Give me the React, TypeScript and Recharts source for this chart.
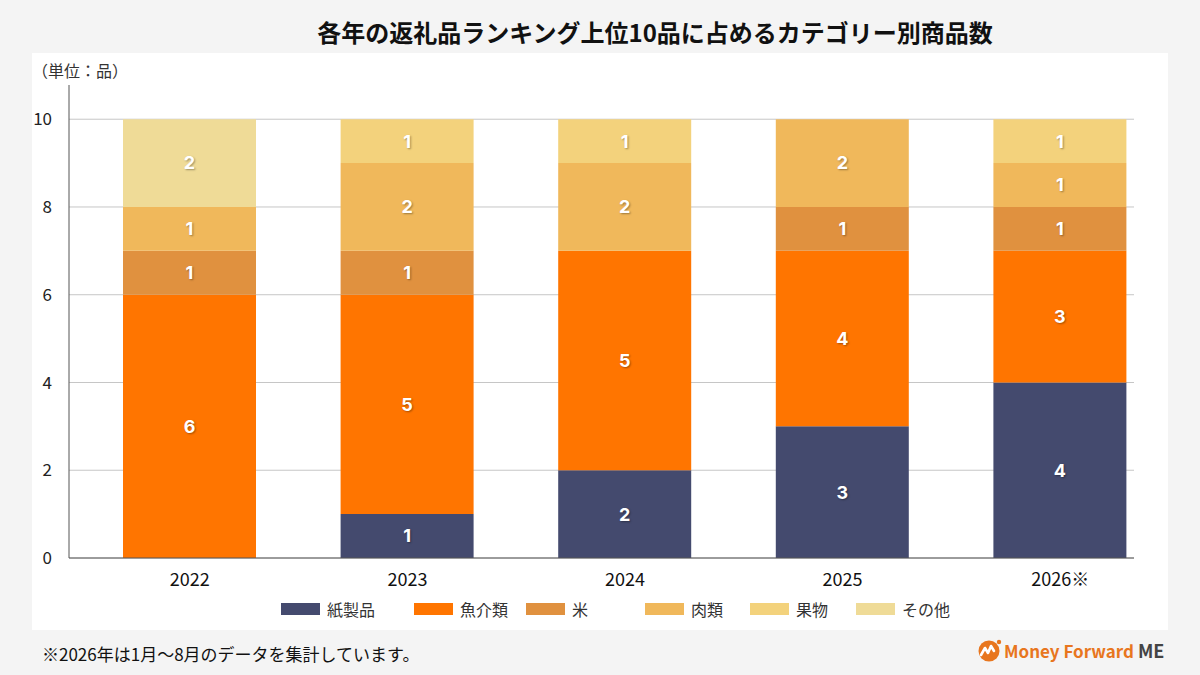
import React from 'react';
import { BarChart, Bar, XAxis, YAxis, CartesianGrid, LabelList } from 'recharts';

const years = ['2022', '2023', '2024', '2025', '2026※'];

const paper = [0, 1, 2, 3, 4];
const seafood = [6, 5, 5, 4, 3];
const rice = [1, 1, 0, 1, 1];
const meat = [1, 2, 2, 2, 1];
const fruit = [0, 1, 1, 0, 1];
const other = [2, 0, 0, 0, 0];

const yTicks = [0, 2, 4, 6, 8, 10];

const series = [
  { key: 'paper', name: '紙製品', color: '#444a6e', values: paper },
  { key: 'seafood', name: '魚介類', color: '#ff7500', values: seafood },
  { key: 'rice', name: '米', color: '#e0913f', values: rice },
  { key: 'meat', name: '肉類', color: '#f0b85b', values: meat },
  { key: 'fruit', name: '果物', color: '#f3d27c', values: fruit },
  { key: 'other', name: 'その他', color: '#efdb97', values: other },
];

// legend slots in the original are not evenly spaced
const legendSlots = [133, 112, 119, 105, 106, 110];

const chartData = years.map((year, i) => {
  const row: Record<string, any> = { year };
  series.forEach((s) => {
    row[s.key] = s.values[i];
  });
  return row;
});

const FONT = '"Noto Sans CJK JP", "Noto Sans", sans-serif';

function ChartLegend() {
  return (
    <div style={{ position: 'absolute', left: 281, top: 597, display: 'flex', fontFamily: FONT, fontSize: 16, color: '#333' }}>
      {series.map((s, i) => (
        <div key={s.key} style={{ width: legendSlots[i], display: 'flex', alignItems: 'center' }}>
          <span style={{ width: 39, height: 12, background: s.color, display: 'inline-block', marginRight: 7 }} />
          <span>{s.name}</span>
        </div>
      ))}
    </div>
  );
}

function Logo() {
  return (
    <svg width={200} height={30} style={{ position: 'absolute', left: 972, top: 636 }}>
      <circle cx={17} cy={15} r={10.5} fill="#e8761e" />
      <circle cx={27} cy={6} r={2.2} fill="#e8761e" />
      <path d="M9 19 L13 12 L16 17 L19 10 L22 15" stroke="#fff" strokeWidth={2.6} fill="none" strokeLinejoin="round" strokeLinecap="round" />
      <text x={32} y={22} fontFamily={FONT} fontWeight="bold" fontSize={17} fill="#e8761e">Money Forward</text>
      <text x={166} y={22} fontFamily={FONT} fontWeight="bold" fontSize={18} fill="#444">ME</text>
    </svg>
  );
}

export default function App() {
  return (
    <div style={{ position: 'absolute', left: 0, top: 0, width: 1200, height: 675, background: '#f4f4f4', fontFamily: FONT, overflow: 'hidden' }}>
      <div style={{ position: 'absolute', left: 0, top: 14, width: 1310, textAlign: 'center', fontSize: 24, fontWeight: 'bold', color: '#111' }}>
        各年の返礼品ランキング上位10品に占めるカテゴリー別商品数
      </div>
      <div style={{ position: 'absolute', left: 32, top: 53, width: 1136, height: 577, background: '#fff' }} />
      <div style={{ position: 'absolute', left: 32, top: 58, fontSize: 16, color: '#333' }}>（単位：品）</div>
      <div style={{ position: 'absolute', left: 0, top: 0 }}>
        <BarChart
          width={1200}
          height={630}
          data={chartData}
          margin={{ top: 85, right: 66, left: 0, bottom: 42 }}
        >
          <CartesianGrid vertical={false} stroke="#c6c6c6" strokeWidth={1} horizontalValues={yTicks} />
          <XAxis
            dataKey="year"
            tickLine={false}
            axisLine={{ stroke: '#555' }}
            tickMargin={9}
            padding={{ left: 12, right: -35 }}
            tick={{ fontSize: 18, fill: '#111', fontFamily: FONT }}
            height={30}
          />
          <YAxis
            width={69}
            domain={[0, 10.78]}
            ticks={yTicks}
            tickLine={false}
            axisLine={{ stroke: '#555' }}
            tickMargin={11}
            tick={{ fontSize: 17, fill: '#222', fontFamily: FONT }}
          />
          {series.map((s) => (
            <Bar key={s.key} dataKey={s.key} name={s.name} stackId="a" fill={s.color} barSize={133} isAnimationActive={false}>
              <LabelList
                dataKey={s.key}
                position="center"
                fill="#fff"
                fontSize={18}
                fontWeight="bold"
                fontFamily='Inter, "Noto Sans", sans-serif'
                style={{ textShadow: '1px 1px 2px rgba(0,0,0,0.35)' }}
                formatter={(v: any) => (v ? v : '')}
              />
            </Bar>
          ))}
        </BarChart>
      </div>
      <ChartLegend />
      <div style={{ position: 'absolute', left: 42, top: 641, fontSize: 17, color: '#111' }}>
        ※2026年は1月〜8月のデータを集計しています。
      </div>
      <Logo />
    </div>
  );
}
